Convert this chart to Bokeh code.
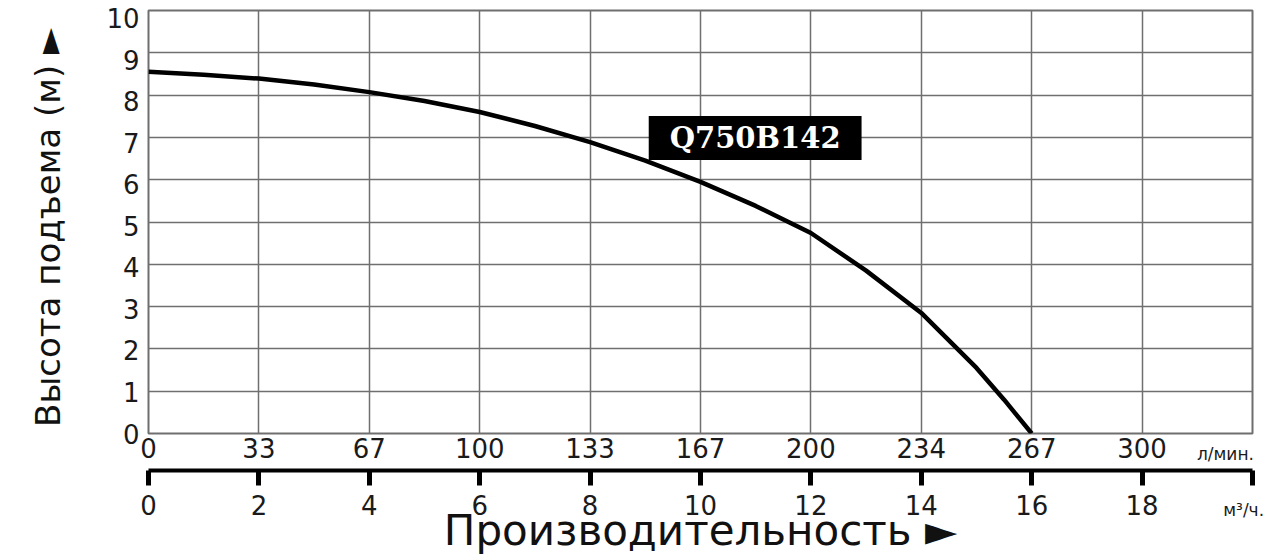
from bokeh.plotting import figure
from bokeh.models import LinearAxis, FixedTicker, Range1d, Label
from bokeh.embed import file_html
from bokeh.resources import INLINE

# ---- data ----
flow_m3h = [0, 1, 2, 3, 4, 5, 6, 7, 8, 9, 10, 11, 12, 13, 14, 15, 15.5, 16]
head_m = [8.55, 8.48, 8.39, 8.25, 8.07, 7.86, 7.60, 7.27, 6.89, 6.45, 5.95,
          5.38, 4.74, 3.85, 2.85, 1.55, 0.80, 0.0]

m3h_ticks = [0, 2, 4, 6, 8, 10, 12, 14, 16, 18, 20]
m3h_labels = ["0", "2", "4", "6", "8", "10", "12", "14", "16", "18", ""]
lpm_labels = ["0", "33", "67", "100", "133", "167", "200", "234", "267", "300"]
head_ticks = [0, 1, 2, 3, 4, 5, 6, 7, 8, 9, 10]

series_name = "Q750B142"
y_title = "Высота подъема (м) ►\u00a0"
x_title = "Производительность ►"
lpm_unit = "л/мин."
m3h_unit = "м³/ч."

FONT = "DejaVu Sans"
GRID = "#6f6f6f"
TXT = "#1a1a1a"

p = figure(width=1280, height=557,
           x_range=Range1d(0, 20), y_range=Range1d(0, 10),
           output_backend="svg", toolbar_location=None,
           min_border_left=148, min_border_right=28,
           min_border_top=10, min_border_bottom=124)

p.background_fill_color = "white"
p.border_fill_color = "white"
p.outline_line_color = GRID
p.outline_line_width = 2

# label range for the head tick labels (slightly below their grid lines at top)
p.extra_y_ranges = {"lab": Range1d(0, 10.18)}

# grids
p.xgrid.ticker = FixedTicker(ticks=m3h_ticks)
p.ygrid.ticker = FixedTicker(ticks=head_ticks)
for g in (p.xgrid[0], p.ygrid[0]):
    g.grid_line_color = GRID
    g.grid_line_width = 1.5


def plain(ax):
    ax.axis_line_color = None
    ax.major_tick_line_color = None
    ax.minor_tick_line_color = None
    ax.major_tick_out = 0
    ax.major_tick_in = 0
    ax.minor_tick_out = 0
    ax.minor_tick_in = 0
    ax.major_label_text_font = FONT
    ax.major_label_text_color = TXT


# first bottom axis: l/min labels
ax1 = p.below[0]
ax1.ticker = FixedTicker(ticks=m3h_ticks[:-1])
ax1.major_label_overrides = {t: l for t, l in zip(m3h_ticks, lpm_labels)}
plain(ax1)
ax1.major_label_standoff = 4
ax1.major_label_text_font_size = "26px"

# left axis
ay = p.left[0]
ay.y_range_name = "lab"
ay.ticker = FixedTicker(ticks=head_ticks)
plain(ay)
ay.major_label_standoff = 9
ay.major_label_text_font_size = "26px"
ay.axis_label = y_title
ay.axis_label_text_font = FONT
ay.axis_label_text_font_size = "34px"
ay.axis_label_text_font_style = "normal"
ay.axis_label_text_color = "#111111"
ay.axis_label_standoff = 35

# "л/мин." caption, overlapping the l/min label row
axu1 = LinearAxis(ticker=FixedTicker(ticks=[19.51]),
                  major_label_overrides={19.51: lpm_unit})
plain(axu1)
axu1.major_label_standoff = -17
axu1.major_label_text_font_size = "17px"
axu1.axis_label = " "
axu1.axis_label_text_font_size = "2px"
axu1.axis_label_standoff = -1

# second bottom axis: m3/h
ax2 = LinearAxis(ticker=FixedTicker(ticks=m3h_ticks),
                 major_label_overrides={t: l for t, l in zip(m3h_ticks, m3h_labels)})
ax2.axis_line_color = "black"
ax2.axis_line_width = 4
ax2.major_tick_line_color = "black"
ax2.major_tick_line_width = 5
ax2.major_tick_out = 15
ax2.major_tick_in = 0
ax2.minor_tick_line_color = None
ax2.minor_tick_out = 0
ax2.minor_tick_in = 0
ax2.major_label_standoff = 9
ax2.major_label_text_font = FONT
ax2.major_label_text_font_size = "26px"
ax2.major_label_text_color = TXT

# "м³/ч." caption, overlapping the m3/h label row
axu2 = LinearAxis(ticker=FixedTicker(ticks=[19.84]),
                  major_label_overrides={19.84: m3h_unit})
plain(axu2)
axu2.major_label_standoff = -18
axu2.major_label_text_font_size = "17px"

# bottom title
axt = LinearAxis(ticker=FixedTicker(ticks=[]))
plain(axt)
axt.major_label_standoff = 0
axt.axis_label = x_title
axt.axis_label_text_font = FONT
axt.axis_label_text_font_size = "42px"
axt.axis_label_text_font_style = "normal"
axt.axis_label_text_color = "#111111"
axt.axis_label_standoff = -17

for a in (axu1, ax2, axu2, axt):
    p.add_layout(a, "below")

# curve
p.line(flow_m3h, head_m, line_color="black", line_width=4.5, line_join="round")

# series label
p.add_layout(Label(x=10.99, y=6.986, text=series_name, text_align="center",
                   text_baseline="middle", text_font="DejaVu Serif",
                   text_font_style="bold", text_font_size="29px",
                   text_color="white", background_fill_color="black",
                   padding=(21, 5)))

open("out.html", "w").write(file_html(p, INLINE))
